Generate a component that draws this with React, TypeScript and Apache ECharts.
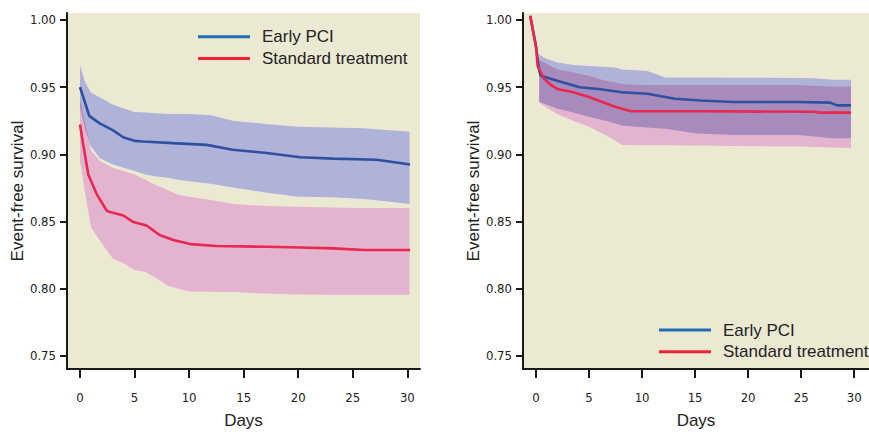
import React, { useEffect, useRef } from "react";
import * as echarts from "echarts";

// ---------- Data ----------
const yTicks = [0.75, 0.8, 0.85, 0.9, 0.95, 1.0];
const xTicks = [0, 5, 10, 15, 20, 25, 30];
const seriesNames = ["Early PCI", "Standard treatment"];

// Left panel: lines
const leftPciX = [0, 0.4, 0.85, 1.8, 3.0, 4.0, 5.0, 5.8, 8.5, 11.6, 14, 17.1, 20.2, 23.2, 27.2, 28.5, 30.25];
const leftPciY = [0.95, 0.94, 0.9286, 0.923, 0.918, 0.9125, 0.91, 0.9095, 0.9083, 0.907, 0.9034, 0.901, 0.8978, 0.8968, 0.896, 0.8945, 0.8924];
const leftStdX = [0, 0.3, 0.76, 1.53, 2.44, 2.75, 3.97, 4.9, 6.1, 7.3, 8.55, 10.1, 12.5, 17.1, 20.2, 23.2, 26, 30.25];
const leftStdY = [0.9222, 0.907, 0.885, 0.8704, 0.8582, 0.857, 0.8545, 0.8496, 0.847, 0.84, 0.8362, 0.8332, 0.8318, 0.8312, 0.8307, 0.83, 0.8288, 0.8288];

// Left panel: confidence bands
const leftBandX = [0, 0.5, 1, 1.8, 3, 4, 5, 6, 7, 8, 9, 10, 12, 14, 17, 20, 23, 26, 28, 30.2];
const leftPciUpper = [0.966, 0.953, 0.946, 0.9425, 0.937, 0.934, 0.9315, 0.931, 0.9305, 0.93, 0.93, 0.93, 0.929, 0.925, 0.9225, 0.9205, 0.92, 0.9193, 0.918, 0.917];
const leftPciLower = [0.935, 0.918, 0.906, 0.8973, 0.8925, 0.89, 0.8875, 0.885, 0.8835, 0.8825, 0.881, 0.88, 0.878, 0.8753, 0.8716, 0.8685, 0.868, 0.8667, 0.865, 0.863];
const leftStdUpper = [0.941, 0.922, 0.903, 0.895, 0.89, 0.8875, 0.885, 0.881, 0.877, 0.8735, 0.87, 0.8685, 0.866, 0.863, 0.8615, 0.861, 0.8605, 0.86, 0.86, 0.86];
const leftStdLower = [0.895, 0.87, 0.846, 0.836, 0.8225, 0.819, 0.814, 0.8125, 0.808, 0.8025, 0.8, 0.798, 0.7978, 0.7975, 0.7965, 0.7958, 0.7955, 0.7955, 0.7955, 0.7955];

// Right panel: lines
const rightPciX = [-0.55, 0, 0.3, 0.45, 2.0, 4.1, 5.9, 8.1, 10.5, 13.1, 15.5, 18.6, 24.7, 27.75, 28.4, 29.7];
const rightPciY = [1.003, 0.98, 0.962, 0.9584, 0.9547, 0.9499, 0.9486, 0.9462, 0.945, 0.9413, 0.94, 0.9389, 0.9389, 0.9384, 0.9364, 0.9364];
const rightStdX = [-0.55, 0, 0.15, 0.76, 1.5, 2.0, 3.5, 5.0, 6.25, 7.5, 9.0, 15.5, 26.2, 26.8, 29.7];
const rightStdY = [1.003, 0.98, 0.9657, 0.956, 0.951, 0.9486, 0.9462, 0.9426, 0.9389, 0.9352, 0.932, 0.932, 0.9316, 0.931, 0.931];

// Right panel: confidence bands
const rightBandX = [0.3, 0.76, 2.0, 3.5, 5.0, 6.55, 7.5, 8.1, 9.5, 10.5, 12.2, 15, 18.6, 21.6, 24.7, 26.2, 28, 29.7];
const rightPciUpper = [0.9743, 0.9719, 0.9682, 0.9665, 0.9657, 0.965, 0.9646, 0.963, 0.9625, 0.962, 0.9572, 0.9572, 0.957, 0.957, 0.9568, 0.9565, 0.9555, 0.9555];
const rightPciLower = [0.939, 0.9376, 0.934, 0.931, 0.9279, 0.925, 0.923, 0.9215, 0.9205, 0.92, 0.919, 0.9156, 0.9144, 0.9144, 0.9144, 0.9132, 0.912, 0.912];
const rightStdUpper = [0.97, 0.9682, 0.9633, 0.961, 0.9584, 0.9547, 0.9535, 0.9523, 0.9518, 0.9516, 0.9516, 0.9516, 0.9516, 0.9516, 0.9515, 0.951, 0.9505, 0.9505];
const rightStdLower = [0.9385, 0.936, 0.93, 0.925, 0.9205, 0.9144, 0.91, 0.907, 0.9068, 0.9068, 0.9068, 0.9065, 0.9062, 0.906, 0.9059, 0.9055, 0.905, 0.9046];

// ---------- Styles ----------
const BG = "#ece9d3";
const PCI_LINE = "#2d50a0";
const STD_LINE = "#e8284e";
const PCI_LEGEND = "#1f6db5";
const STD_LEGEND = "#ee2230";
const PCI_BAND = "#b0b3d9";
const STD_BAND = "#e3b3cf";
const OVERLAP_BAND = "#a88bbd";
const AXIS = "#1a1a1a";
const TICK_FONT = "'Liberation Sans Narrow', 'DejaVu Sans Condensed', 'Roboto Condensed', 'Arial Narrow', 'Liberation Sans', sans-serif";
const TEXT_FONT = "'Liberation Sans', Arial, Helvetica, sans-serif";

const zip = (xs: number[], ys: number[]) => xs.map((x, i) => [x, ys[i]]);

function bandSeries(name: string, gridIdx: number, xs: number[], upper: number[], lower: number[], color: string, z: number) {
  return {
    type: "custom",
    name,
    xAxisIndex: gridIdx,
    yAxisIndex: gridIdx,
    clip: true,
    silent: true,
    z,
    data: [[xs[0], upper[0]]],
    renderItem: (_params: any, api: any) => {
      const pts: number[][] = [];
      for (let i = 0; i < xs.length; i++) pts.push(api.coord([xs[i], upper[i]]));
      for (let i = xs.length - 1; i >= 0; i--) pts.push(api.coord([xs[i], lower[i]]));
      return { type: "polygon", shape: { points: pts }, style: { fill: color, stroke: null } };
    },
  };
}

function overlapSeries(name: string, gridIdx: number, xs: number[], u1: number[], l1: number[], u2: number[], l2: number[], z: number) {
  const lo = xs.map((_, i) => Math.max(l1[i], l2[i]));
  const hi = xs.map((_, i) => Math.max(Math.min(u1[i], u2[i]), lo[i]));
  return bandSeries(name, gridIdx, xs, hi, lo, OVERLAP_BAND, z);
}

function lineSeries(name: string, gridIdx: number, xs: number[], ys: number[], color: string, z: number) {
  return {
    type: "line",
    name,
    xAxisIndex: gridIdx,
    yAxisIndex: gridIdx,
    data: zip(xs, ys),
    showSymbol: false,
    symbol: "none",
    smooth: false,
    z,
    lineStyle: { color, width: 2.6 },
    itemStyle: { color },
  };
}

function xAxis(gridIdx: number, min: number, max: number) {
  return {
    type: "value",
    gridIndex: gridIdx,
    min,
    max,
    name: "Days",
    nameLocation: "middle",
    nameGap: 43,
    nameTextStyle: { fontFamily: TEXT_FONT, fontSize: 17, color: "#222" },
    axisLine: { show: true, onZero: false, lineStyle: { color: AXIS, width: 2 } },
    axisTick: { show: true, length: 9, customValues: xTicks, lineStyle: { color: AXIS, width: 2 } },
    axisLabel: { customValues: xTicks, margin: 22, fontFamily: TICK_FONT, fontSize: 13, color: "#222" },
    splitLine: { show: false },
  };
}

function yAxis(gridIdx: number) {
  return {
    type: "value",
    gridIndex: gridIdx,
    min: 0.7403,
    max: 1.0051,
    name: "Event-free survival",
    nameLocation: "middle",
    nameGap: 33,
    nameTextStyle: { fontFamily: TEXT_FONT, fontSize: 17, color: "#222" },
    axisLine: { show: true, onZero: false, lineStyle: { color: AXIS, width: 2 } },
    axisTick: { show: true, length: 7, customValues: yTicks, lineStyle: { color: AXIS, width: 2 } },
    axisLabel: {
      customValues: yTicks,
      margin: 11,
      fontFamily: TICK_FONT,
      fontSize: 13,
      color: "#222",
      formatter: (v: number) => v.toFixed(2),
    },
    splitLine: { show: false },
  };
}

function legend(left: number, top: number) {
  return {
    left,
    top,
    orient: "vertical",
    padding: 0,
    itemGap: 1.7,
    itemWidth: 52,
    itemHeight: 3,
    icon: "rect",
    selectedMode: false,
    textStyle: { fontFamily: TEXT_FONT, fontSize: 17, color: "#222", lineHeight: 20, padding: [0, 0, 0, 7] },
    data: [
      { name: seriesNames[0], itemStyle: { color: PCI_LEGEND } },
      { name: seriesNames[1], itemStyle: { color: STD_LEGEND } },
    ],
  };
}

export default function App() {
  const ref = useRef<HTMLDivElement>(null);
  useEffect(() => {
    if (!ref.current) return;
    const chart = echarts.init(ref.current, null, { renderer: "svg" });
    chart.setOption({
      animation: false,
      backgroundColor: "#ffffff",
      grid: [
        { left: 67, top: 13, width: 353, height: 361, show: true, backgroundColor: BG, borderWidth: 0 },
        { left: 523, top: 13, width: 357, height: 361, show: true, backgroundColor: BG, borderWidth: 0 },
      ],
      xAxis: [xAxis(0, -1.19, 31.16), xAxis(1, -1.23, 31.4)],
      yAxis: [yAxis(0), yAxis(1)],
      legend: [legend(198, 26.7), legend(659, 320)],
      series: [
        bandSeries("band-l-pci", 0, leftBandX, leftPciUpper, leftPciLower, PCI_BAND, 1),
        bandSeries("band-l-std", 0, leftBandX, leftStdUpper, leftStdLower, STD_BAND, 2),
        overlapSeries("band-l-ov", 0, leftBandX, leftPciUpper, leftPciLower, leftStdUpper, leftStdLower, 3),
        lineSeries(seriesNames[0], 0, leftPciX, leftPciY, PCI_LINE, 5),
        lineSeries(seriesNames[1], 0, leftStdX, leftStdY, STD_LINE, 6),
        bandSeries("band-r-pci", 1, rightBandX, rightPciUpper, rightPciLower, PCI_BAND, 1),
        bandSeries("band-r-std", 1, rightBandX, rightStdUpper, rightStdLower, STD_BAND, 2),
        overlapSeries("band-r-ov", 1, rightBandX, rightPciUpper, rightPciLower, rightStdUpper, rightStdLower, 3),
        lineSeries(seriesNames[0], 1, rightPciX, rightPciY, PCI_LINE, 5),
        lineSeries(seriesNames[1], 1, rightStdX, rightStdY, STD_LINE, 6),
      ],
    });
    return () => chart.dispose();
  }, []);
  return <div ref={ref} style={{ position: "fixed", left: 0, top: 0, width: 869, height: 434 }} />;
}
